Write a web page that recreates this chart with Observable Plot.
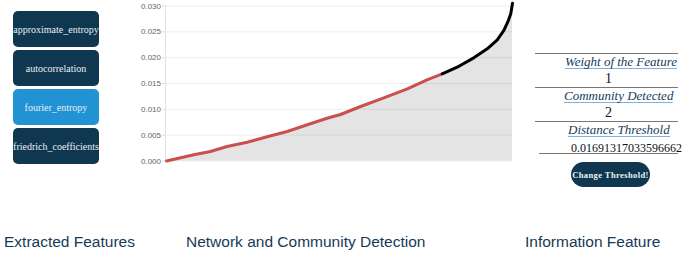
<!DOCTYPE html>
<html>
<head>
<meta charset="utf-8">
<script src="https://cdn.jsdelivr.net/npm/d3@7"></script>
<script src="https://cdn.jsdelivr.net/npm/@observablehq/plot@0.6"></script>
<style>
  html, body { margin: 0; padding: 0; background: #fff; }
  #page { position: relative; width: 694px; height: 253px; overflow: hidden; }
  .btn { position: absolute; left: 13px; width: 86px; height: 36px; border-radius: 5px;
         background: #0f3850; color: #e9eef2; font-family: "Liberation Serif", serif; font-size: 10px;
         display: flex; align-items: center; justify-content: center; white-space: nowrap; }
  .btn.active { background: #2192d4; }
  .hline { position: absolute; height: 0; border-top: 1px solid #777; }
  .head { position: absolute; font-family: "Liberation Serif", serif; font-style: italic; font-size: 13px;
          color: #173d5c; white-space: nowrap; border-bottom: 1px solid #7fb2dc; line-height: 13px; }
  .val { position: absolute; font-family: "Liberation Serif", serif; font-size: 14px; color: #111; white-space: nowrap; line-height: 14px; }
  .label { position: absolute; top: 233px; font-family: "Liberation Sans", Arial, sans-serif; font-size: 15.5px; color: #163a56; white-space: nowrap; }
  #chart { position: absolute; left: 125px; top: 0; }
  #thrbtn { position: absolute; left: 571px; top: 162px; width: 79px; height: 25px; border-radius: 13px;
            background: #0f3850; color: #eef2f5; font-family: "Liberation Serif", serif; font-weight: bold; font-size: 8.5px;
            letter-spacing: 0.4px; display: flex; align-items: center; justify-content: center; white-space: nowrap; }
</style>
</head>
<body>
<div id="page">
  <div id="buttons"></div>
  <div id="chart"></div>
  <div id="panel"></div>
  <div id="thrbtn">Change Threshold!</div>
  <div class="label" style="left:4px">Extracted Features</div>
  <div class="label" style="left:186px">Network and Community Detection</div>
  <div class="label" style="left:525px">Information Feature</div>
</div>
<script>
// ---- data ----
const features = ["approximate_entropy", "autocorrelation", "fourier_entropy", "friedrich_coefficients"];
const activeFeature = "fourier_entropy";
const rank = [0, 7.9, 12.7, 17.5, 23.3, 29.1, 34.9, 40.7, 46.4, 50.3, 56.1, 62.8, 69.6, 75.3, 79.7, 84.0, 88.8, 92.7, 95.6, 97.5, 98.8, 99.5, 100];
const dist = [0, 0.0012, 0.00184, 0.00281, 0.00364, 0.00468, 0.00571, 0.00701, 0.00828, 0.0090, 0.01055, 0.01223, 0.01397, 0.01572, 0.01688, 0.01815, 0.01997, 0.02171, 0.02346, 0.02526, 0.02719, 0.02849, 0.03054];
const yTicks = [0, 0.005, 0.010, 0.015, 0.020, 0.025, 0.030];
const panelHeads = ["Weight of the Feature", "Community Detected", "Distance Threshold"];
const panelValues = ["1", "2", "0.01691317033596662"];
const threshold = 0.01691317033596662;

// ---- buttons ----
const btnTops = [11, 50, 89, 128];
const bc = document.getElementById("buttons");
features.forEach((f, i) => {
  const d = document.createElement("div");
  d.className = "btn" + (f === activeFeature ? " active" : "");
  d.style.top = btnTops[i] + "px";
  d.textContent = f;
  bc.appendChild(d);
});

// ---- panel ----
const pc = document.getElementById("panel");
const lines = [[535, 53, 143], [535, 87, 143], [535, 121, 143], [539, 153, 139]];
lines.forEach(([l, t, w]) => {
  const d = document.createElement("div");
  d.className = "hline"; d.style.left = l + "px"; d.style.top = t + "px"; d.style.width = w + "px";
  pc.appendChild(d);
});
const headPos = [[565, 55], [564, 89], [568, 123]];
panelHeads.forEach((h, i) => {
  const d = document.createElement("div");
  d.className = "head"; d.style.left = headPos[i][0] + "px"; d.style.top = headPos[i][1] + "px";
  d.textContent = h; pc.appendChild(d);
});
const valPos = [[605, 72, 14], [605, 106, 14], [571, 141, 12]];
panelValues.forEach((v, i) => {
  const d = document.createElement("div");
  d.className = "val"; d.style.left = valPos[i][0] + "px"; d.style.top = valPos[i][1] + "px";
  d.style.fontSize = valPos[i][2] + "px";
  d.textContent = v; pc.appendChild(d);
});

// ---- chart ----
const data = rank.map((r, i) => ({rank: r, dist: dist[i]}));
const red = data.filter(d => d.dist <= threshold);
const black = [red[red.length - 1], ...data.filter(d => d.dist > threshold)];

const chart = Plot.plot({
  width: 400,
  height: 170,
  marginLeft: 41,
  marginRight: 13,
  marginTop: 5.5,
  marginBottom: 9.5,
  style: {fontFamily: "Liberation Sans, Arial, sans-serif", fontSize: "8px", background: "transparent"},
  x: {domain: [0, 100], axis: null},
  y: {domain: [0, 0.030], ticks: yTicks},
  marks: [
    Plot.areaY(data, {x: "rank", y: "dist", fill: "#e4e4e4", curve: "linear"}),
    Plot.gridY(yTicks, {stroke: "#000", strokeOpacity: 0.07}),
    Plot.ruleX([0], {stroke: "#e2e2e2", dx: -1}),
    Plot.axisY(yTicks, {tickFormat: d3.format(".3f"), tickSize: 4, tickPadding: 1.5, stroke: "#ddd", fill: "#666", label: null}),
    Plot.line(red, {x: "rank", y: "dist", stroke: "#c9504f", strokeWidth: 3}),
    Plot.line(black, {x: "rank", y: "dist", stroke: "#000", strokeWidth: 3})
  ]
});
document.getElementById("chart").appendChild(chart);
</script>
</body>
</html>
